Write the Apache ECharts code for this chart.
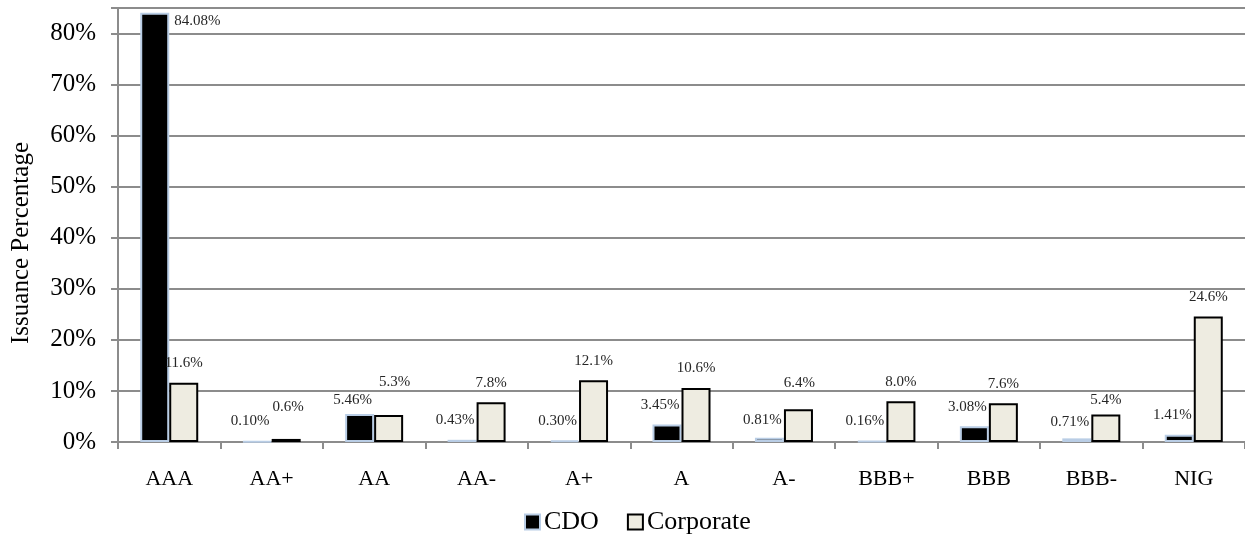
<!DOCTYPE html>
<html>
<head>
<meta charset="utf-8">
<script src="https://cdn.jsdelivr.net/npm/echarts@6/dist/echarts.min.js"></script>
<style>
  html, body { margin: 0; padding: 0; background: #fff; }
  #chart { width: 1245px; height: 536px; }
</style>
</head>
<body>
<div id="chart"></div>
<script>
// Rating buckets and issuance shares (%)
const ratings = ['AAA', 'AA+', 'AA', 'AA-', 'A+', 'A', 'A-', 'BBB+', 'BBB', 'BBB-', 'NIG'];
const cdoShare = [84.08, 0.10, 5.46, 0.43, 0.30, 3.45, 0.81, 0.16, 3.08, 0.71, 1.41];
const corporateShare = [11.6, 0.6, 5.3, 7.8, 12.1, 10.6, 6.4, 8.0, 7.6, 5.4, 24.6];
const cdoDecimals = 2;
const corporateDecimals = 1;
const yTicks = [0, 10, 20, 30, 40, 50, 60, 70, 80];

const serif = '"Liberation Serif", "DejaVu Serif", serif';

// Small per-label nudges [dx, dy] so labels sit clear of neighbours
const cdoNudge = { 'AA': [0, 5], 'A-': [0, 2], 'BBB-': [0, 3] };
const corpNudge = { 'AA+': [2, -12], 'AA': [6, -13], 'A-': [1, -7], 'BBB-': [0, 5] };

function labelFor(value, decimals, nudge, baseDx) {
  return {
    show: true,
    position: 'top',
    distance: 12,
    offset: [baseDx + (nudge ? nudge[0] : 0), nudge ? nudge[1] : 0],
    formatter: () => value.toFixed(decimals) + '%',
    fontFamily: serif,
    fontSize: 15,
    color: '#262626'
  };
}

const cdoData = cdoShare.map((v, i) => {
  const item = { value: v, label: labelFor(v, cdoDecimals, cdoNudge[ratings[i]], -7) };
  if (i === 0) {
    // tallest bar: label sits beside its top edge
    item.label = Object.assign({}, item.label, {
      position: [34, 1], align: 'left', verticalAlign: 'top', offset: [0, 0]
    });
  }
  return item;
});

const corpData = corporateShare.map((v, i) => ({
  value: v, label: labelFor(v, corporateDecimals, corpNudge[ratings[i]], 0)
}));

const chart = echarts.init(document.getElementById('chart'));
chart.setOption({
  animation: false,
  backgroundColor: '#ffffff',
  grid: { left: 118, right: 0, top: 8, bottom: 94, containLabel: false },
  legend: {
    left: 519,
    top: 504,
    icon: 'rect',
    itemWidth: 15,
    itemHeight: 15,
    itemGap: 28,
    textStyle: { fontFamily: serif, fontSize: 26, color: '#000', padding: [0, 0, 0, -1] },
    data: ['CDO', 'Corporate']
  },
  xAxis: {
    type: 'category',
    data: ratings,
    axisLine: { lineStyle: { color: '#8c8c8c', width: 2 } },
    axisTick: { show: true, length: 7, inside: false, lineStyle: { color: '#8c8c8c', width: 2 } },
    axisLabel: { fontFamily: serif, fontSize: 22, color: '#000', margin: 26 }
  },
  yAxis: {
    type: 'value',
    min: 0,
    max: 85,
    interval: 10,
    name: 'Issuance Percentage',
    nameLocation: 'middle',
    nameRotate: 90,
    nameGap: 84,
    nameTextStyle: { fontFamily: serif, fontSize: 25, color: '#000', padding: [0, 36, 0, 0] },
    axisLine: { show: true, lineStyle: { color: '#8c8c8c', width: 2 } },
    axisTick: { show: true, length: 7, inside: false, lineStyle: { color: '#8c8c8c', width: 2 } },
    axisLabel: {
      fontFamily: serif, fontSize: 25, color: '#000', margin: 22,
      formatter: v => (yTicks.indexOf(v) >= 0 ? v + '%' : '')
    },
    splitLine: { show: true, lineStyle: { color: '#8c8c8c', width: 2 } }
  },
  series: [
    {
      name: 'CDO',
      type: 'bar',
      barWidth: 29,
      barGap: '0%',
      itemStyle: { color: '#000000', borderColor: '#b9cde5', borderWidth: 2 },
      data: cdoData
    },
    {
      name: 'Corporate',
      type: 'bar',
      barWidth: 29,
      barGap: '0%',
      itemStyle: { color: '#eeece1', borderColor: '#000000', borderWidth: 2 },
      data: corpData
    }
  ]
});
</script>
</body>
</html>
